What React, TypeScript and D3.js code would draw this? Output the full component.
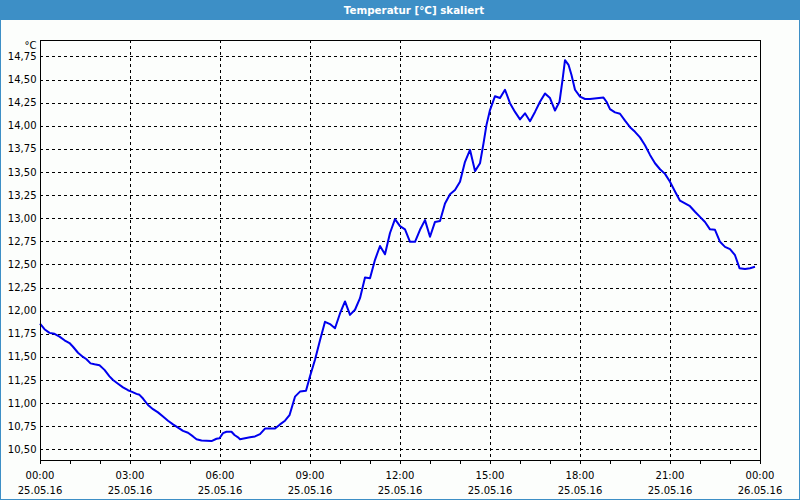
import React from "react";
import * as d3 from "d3";

// minutes since 25.05.16 00:00
const minutes = [
  0, 9, 19, 29, 39, 49, 59, 66, 76, 86, 93, 101, 109, 119, 129, 139, 146, 156, 166, 176,
  183, 193, 199, 206, 216, 226, 236, 246, 256, 266, 276, 286, 296, 306, 313, 323, 343, 353, 359, 366,
  373, 383, 389, 396, 400, 410, 420, 430, 440, 450, 470, 480, 490, 499, 510, 520, 532, 540, 550, 560,
  570, 580, 590, 600, 610, 620, 630, 640, 650, 660, 670, 680, 690, 700, 710, 720, 730, 740, 750, 760,
  770, 780, 790, 800, 810, 820, 830, 840, 850, 860, 870, 880, 887, 893, 900, 910, 920, 930, 940, 950,
  960, 970, 980, 990, 1000, 1010, 1020, 1030, 1039, 1045, 1050, 1057, 1063, 1070, 1080, 1090, 1100, 1127, 1133, 1140,
  1150, 1160, 1170, 1180, 1190, 1200, 1210, 1220, 1230, 1240, 1250, 1260, 1270, 1280, 1290, 1300, 1310, 1320, 1330, 1340,
  1350, 1360, 1370, 1380, 1390, 1399, 1410, 1420, 1430,
];
const temps = [
  11.86, 11.8, 11.76, 11.75, 11.72, 11.68, 11.65, 11.61, 11.545, 11.5, 11.475, 11.43, 11.42, 11.41, 11.36, 11.29, 11.25, 11.21, 11.17, 11.14,
  11.125, 11.1, 11.09, 11.05, 10.98, 10.935, 10.9, 10.855, 10.81, 10.77, 10.735, 10.7, 10.68, 10.64, 10.61, 10.595, 10.59, 10.615, 10.62, 10.675,
  10.69, 10.69, 10.655, 10.63, 10.61, 10.62, 10.63, 10.64, 10.665, 10.725, 10.725, 10.77, 10.81, 10.87, 11.07, 11.125, 11.135, 11.29, 11.47, 11.68,
  11.88, 11.855, 11.81, 11.97, 12.1, 11.955, 12.01, 12.135, 12.36, 12.35, 12.55, 12.7, 12.61, 12.84, 12.99, 12.915, 12.88, 12.745, 12.745, 12.875,
  12.98, 12.8, 12.96, 12.97, 13.16, 13.26, 13.305, 13.395, 13.61, 13.74, 13.51, 13.595, 13.81, 14.01, 14.17, 14.32, 14.3, 14.39, 14.245, 14.15,
  14.07, 14.135, 14.05, 14.15, 14.26, 14.35, 14.3, 14.165, 14.26, 14.495, 14.71, 14.66, 14.55, 14.39, 14.315, 14.29, 14.29, 14.305, 14.26, 14.18,
  14.145, 14.13, 14.055, 13.985, 13.935, 13.875, 13.79, 13.685, 13.595, 13.53, 13.48, 13.395, 13.29, 13.19, 13.16, 13.13, 13.07, 13.015, 12.96, 12.88,
  12.875, 12.745, 12.69, 12.665, 12.6, 12.46, 12.45, 12.46, 12.475,
];

const yTicks = [10.5, 10.75, 11, 11.25, 11.5, 11.75, 12, 12.25, 12.5, 12.75, 13, 13.25, 13.5, 13.75, 14, 14.25, 14.5, 14.75];
const xTickHours = [0, 3, 6, 9, 12, 15, 18, 21, 24];
const xTimeLabels = ["00:00", "03:00", "06:00", "09:00", "12:00", "15:00", "18:00", "21:00", "00:00"];
const xDateLabels = ["25.05.16", "25.05.16", "25.05.16", "25.05.16", "25.05.16", "25.05.16", "25.05.16", "25.05.16", "26.05.16"];
const minorHours = d3.range(0, 25, 1);

const title = "Temperatur [°C] skaliert";
const unit = "°C";

export default function App() {
  const W = 800, H = 500;
  const left = 40, right = 760, top = 40, bottom = 460;
  const x = d3.scaleLinear().domain([0, 24]).range([left, right]);
  const y = d3.scaleLinear().domain([10.385, 14.928]).range([bottom, top]);
  const line = d3.line<number>()
    .x((_, i) => x(minutes[i] / 60))
    .y((d) => y(d));
  const fmt = (v: number) => d3.format(".2f")(v).replace(".", ",");
  const font = "'DejaVu Sans', Verdana, sans-serif";

  return (
    <div style={{ position: "absolute", left: 0, top: 0 }}>
      <svg width={W} height={H} style={{ display: "block" }} fontFamily={font}>
        <rect x={0} y={0} width={W} height={H} fill="#fcfefc" />
        <rect x={0} y={0} width={W} height={20} fill="#3d8fc6" />
        <rect x={0.5} y={0.5} width={W - 1} height={H - 1} fill="none" stroke="#3d8fc6" />
        <text x={414} y={10} dy="0.35em" textAnchor="middle" fill="#ffffff" fontWeight="bold" fontSize={10.3}>
          {title}
        </text>

        {/* grid */}
        <g stroke="#000" strokeDasharray="3,3" shapeRendering="crispEdges">
          {yTicks.map((t) => (
            <line key={"gy" + t} x1={left} x2={right} y1={Math.round(y(t)) + 0.5} y2={Math.round(y(t)) + 0.5} />
          ))}
          {xTickHours.slice(1, -1).map((h) => (
            <line key={"gx" + h} x1={x(h) + 0.5} x2={x(h) + 0.5} y1={top} y2={bottom} />
          ))}
        </g>

        {/* data line */}
        <path d={line(temps) || ""} fill="none" stroke="#0000ee" strokeWidth={2} strokeLinejoin="round" />

        {/* frame */}
        <rect x={left + 0.5} y={top + 0.5} width={right - left} height={bottom - top} fill="none" stroke="#000" shapeRendering="crispEdges" />

        {/* x minor ticks */}
        <g stroke="#000" shapeRendering="crispEdges">
          {minorHours.map((h) => (
            <line key={"mt" + h} x1={x(h) + 0.5} x2={x(h) + 0.5} y1={bottom} y2={bottom + 4} />
          ))}
        </g>

        {/* y labels */}
        <g fontSize={10} fill="#000" textAnchor="end">
          {yTicks.map((t) => (
            <text key={"yl" + t} x={36.5} y={y(t)} dy="0.35em">{fmt(t)}</text>
          ))}
          <text x={36.5} y={45} dy="0.35em">{unit}</text>
        </g>

        {/* x labels */}
        <g fontSize={10} fill="#000" textAnchor="middle">
          {xTickHours.map((h, i) => (
            <g key={"xl" + h}>
              <text x={x(h)} y={475} dy="0.35em">{xTimeLabels[i]}</text>
              <text x={x(h)} y={490} dy="0.35em">{xDateLabels[i]}</text>
            </g>
          ))}
        </g>
      </svg>
    </div>
  );
}
